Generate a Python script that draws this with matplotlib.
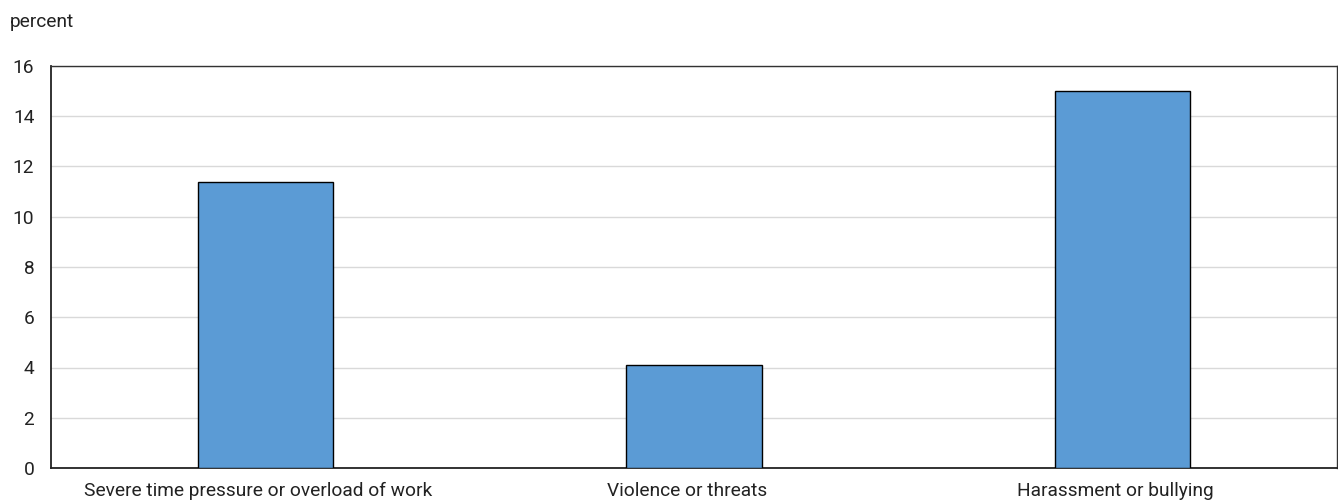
import matplotlib.pyplot as plt
import matplotlib.transforms as mtransforms

# 数据
categories = ['Severe time pressure or overload of work', 'Violence or threats', 'Harassment or bullying']
values = [11.4, 4.1, 15.0]
y_ticks = [0, 2, 4, 6, 8, 10, 12, 14, 16]

plt.rcParams['font.family'] = ['Roboto', 'DejaVu Sans']

fig = plt.figure(figsize=(13.38, 5), dpi=100)
ax = fig.add_axes([51 / 1338, 32 / 500, 1286 / 1338, 402 / 500])

ax.bar(range(len(categories)), values, width=0.315,
       color='#5B9BD5', edgecolor='black', linewidth=1, zorder=3)

ax.set_xlim(-0.5, len(categories) - 0.5)
ax.set_ylim(0, 16)
ax.set_yticks(y_ticks)
ax.set_xticks(range(len(categories)))
ax.set_xticklabels(categories)
ax.tick_params(axis='both', length=0, labelsize=13.8, colors='#222222')
ax.tick_params(axis='y', pad=12)
ax.tick_params(axis='x', pad=10)

# x轴标签稍微左移
shift = mtransforms.ScaledTranslation(-7 / 100, 0, fig.dpi_scale_trans)
for lbl in ax.get_xticklabels():
    lbl.set_transform(lbl.get_transform() + shift)

# 网格线与边框
ax.yaxis.grid(True, color='#d9d9d9', linewidth=1, zorder=0)
for side in ['left', 'bottom']:
    ax.spines[side].set_color('#222222')
    ax.spines[side].set_linewidth(1.3)
for side in ['top', 'right']:
    ax.spines[side].set_color('#333333')
    ax.spines[side].set_linewidth(1)

fig.text(10 / 1338, 1 - 22 / 500, 'percent', fontsize=13.8, color='#222222', va='center', ha='left')

plt.savefig('out.png', dpi=100)
